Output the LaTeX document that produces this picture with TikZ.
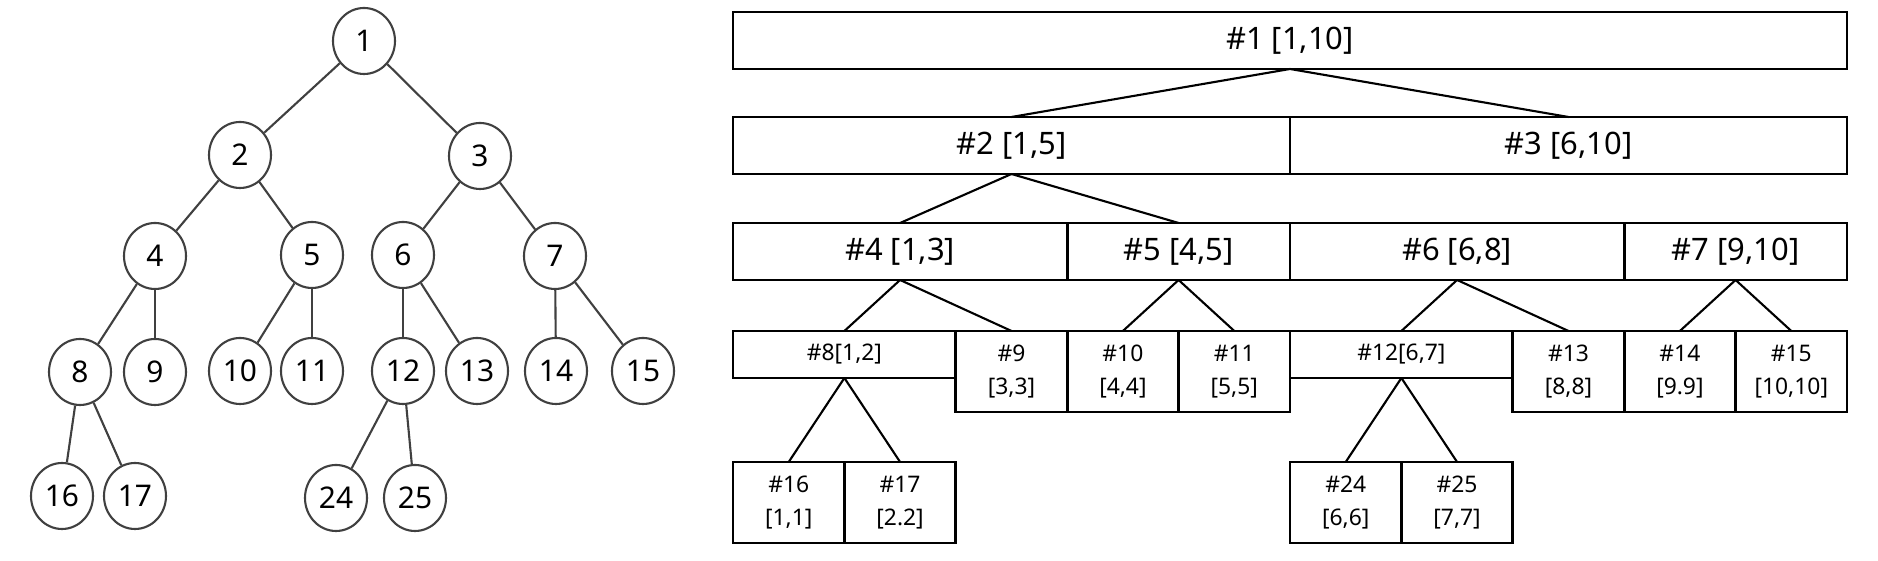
\documentclass[tikz,border=0pt]{standalone}
\usepackage{fontspec}
\setmainfont{Noto Sans}
\usetikzlibrary{shapes.geometric}
\newcommand{\treefont}{\fontsize{8.5}{10}\selectfont}
\newcommand{\segfont}{\fontsize{8.8}{10}\selectfont}
\newcommand{\leaffont}{\fontsize{6.5}{9.4}\selectfont}

\begin{document}
\begin{tikzpicture}[
  vert/.style={
    ellipse,
    draw=black!75,
    line width=0.6pt,
    minimum width=0.62cm,
    minimum height=0.66cm,
    inner sep=0pt,
    font=\treefont
  },
  seg/.style={
    draw,
    line width=0.8pt,
    inner sep=0pt,
    outer sep=0pt,
    anchor=north,
    minimum height=0.57cm,
    font=\segfont
  },
  segleaf/.style={
    seg,
    minimum width=1.114cm,
    minimum height=0.81cm,
    align=center,
    font=\leaffont
  },
  link/.style={line width=0.6pt}
]
  \useasboundingbox (0,0) rectangle (18.78,-5.61);

  % binary tree with heap numbering
  \node[vert] (n1) at (3.64,-0.41) {1};
  \node[vert] (n2) at (2.40,-1.55) {2};
  \node[vert] (n3) at (4.80,-1.56) {3};
  \node[vert] (n4) at (1.55,-2.56) {4};
  \node[vert] (n5) at (3.12,-2.55) {5};
  \node[vert] (n6) at (4.03,-2.55) {6};
  \node[vert] (n7) at (5.55,-2.56) {7};
  \node[vert] (n8) at (0.80,-3.72) {8};
  \node[vert] (n9) at (1.55,-3.72) {9};
  \node[vert] (n10) at (2.40,-3.71) {10};
  \node[vert] (n11) at (3.12,-3.71) {11};
  \node[vert] (n12) at (4.03,-3.71) {12};
  \node[vert] (n13) at (4.77,-3.71) {13};
  \node[vert] (n14) at (5.56,-3.71) {14};
  \node[vert] (n15) at (6.43,-3.71) {15};
  \node[vert] (n16) at (0.62,-4.96) {16};
  \node[vert] (n17) at (1.35,-4.96) {17};
  \node[vert] (n24) at (3.36,-4.98) {24};
  \node[vert] (n25) at (4.15,-4.98) {25};

  \draw[link,black!75] (n1) -- (n2);
  \draw[link,black!75] (n1) -- (n3);
  \draw[link,black!75] (n2) -- (n4);
  \draw[link,black!75] (n2) -- (n5);
  \draw[link,black!75] (n3) -- (n6);
  \draw[link,black!75] (n3) -- (n7);
  \draw[link,black!75] (n4) -- (n8);
  \draw[link,black!75] (n4) -- (n9);
  \draw[link,black!75] (n5) -- (n10);
  \draw[link,black!75] (n5) -- (n11);
  \draw[link,black!75] (n6) -- (n12);
  \draw[link,black!75] (n6) -- (n13);
  \draw[link,black!75] (n7) -- (n14);
  \draw[link,black!75] (n7) -- (n15);
  \draw[link,black!75] (n8) -- (n16);
  \draw[link,black!75] (n8) -- (n17);
  \draw[link,black!75] (n12) -- (n24);
  \draw[link,black!75] (n12) -- (n25);

  % segment tree over [1,10]
  \node[seg,minimum width=11.14cm] (s1) at (12.900,-0.12) {\#1 [1,10]};

  \node[seg,minimum width=5.57cm] (s2) at (10.115,-1.17) {\#2 [1,5]};
  \node[seg,minimum width=5.57cm] (s3) at (15.685,-1.17) {\#3 [6,10]};

  \node[seg,minimum width=3.342cm] (s4) at (9.001,-2.23) {\#4 [1,3]};
  \node[seg,minimum width=2.228cm] (s5) at (11.786,-2.23) {\#5 [4,5]};
  \node[seg,minimum width=3.342cm] (s6) at (14.571,-2.23) {\#6 [6,8]};
  \node[seg,minimum width=2.228cm] (s7) at (17.356,-2.23) {\#7 [9,10]};

  \node[seg,minimum width=2.228cm,minimum height=0.47cm,font=\leaffont] (s8) at (8.444,-3.31) {\#8[1,2]};
  \node[segleaf] (s9) at (10.115,-3.31) {\#9\\{}[3,3]};
  \node[segleaf] (s10) at (11.229,-3.31) {\#10\\{}[4,4]};
  \node[segleaf] (s11) at (12.343,-3.31) {\#11\\{}[5,5]};
  \node[seg,minimum width=2.228cm,minimum height=0.47cm,font=\leaffont] (s12) at (14.014,-3.31) {\#12[6,7]};
  \node[segleaf] (s13) at (15.685,-3.31) {\#13\\{}[8,8]};
  \node[segleaf] (s14) at (16.799,-3.31) {\#14\\{}[9.9]};
  \node[segleaf] (s15) at (17.913,-3.31) {\#15\\{}[10,10]};

  \node[segleaf] (s16) at (7.887,-4.62) {\#16\\{}[1,1]};
  \node[segleaf] (s17) at (9.001,-4.62) {\#17\\{}[2.2]};
  \node[segleaf] (s24) at (13.457,-4.62) {\#24\\{}[6,6]};
  \node[segleaf] (s25) at (14.571,-4.62) {\#25\\{}[7,7]};

  \draw[link] (s1.south) -- (s2.north);
  \draw[link] (s1.south) -- (s3.north);
  \draw[link] (s2.south) -- (s4.north);
  \draw[link] (s2.south) -- (s5.north);
  \draw[link] (s4.south) -- (s8.north);
  \draw[link] (s4.south) -- (s9.north);
  \draw[link] (s5.south) -- (s10.north);
  \draw[link] (s5.south) -- (s11.north);
  \draw[link] (s6.south) -- (s12.north);
  \draw[link] (s6.south) -- (s13.north);
  \draw[link] (s7.south) -- (s14.north);
  \draw[link] (s7.south) -- (s15.north);
  \draw[link] (s8.south) -- (s16.north);
  \draw[link] (s8.south) -- (s17.north);
  \draw[link] (s12.south) -- (s24.north);
  \draw[link] (s12.south) -- (s25.north);
\end{tikzpicture}
\end{document}
